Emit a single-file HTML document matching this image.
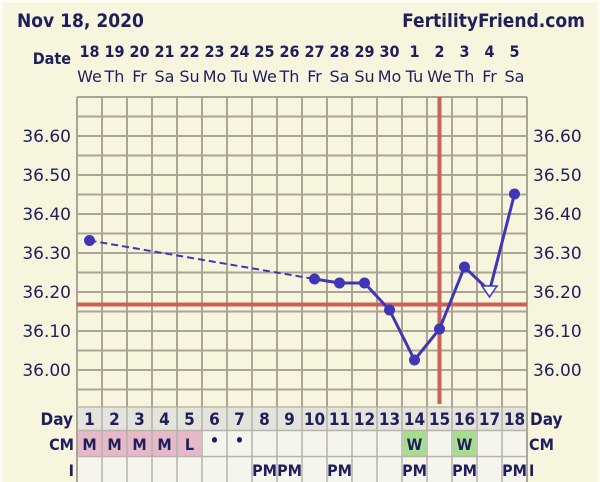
<!DOCTYPE html><html><head><style>body{margin:0;background:#fff}svg{display:block}</style></head><body>
<svg width="600" height="482" xmlns="http://www.w3.org/2000/svg" font-family="'DejaVu Sans Condensed','Liberation Sans',sans-serif">
<rect x="0" y="0" width="600" height="482" fill="#fdfcf3"/>
<rect x="3" y="3" width="594" height="479" fill="#f8f5de"/>
<text x="17" y="27" font-size="19" font-weight="bold" fill="#1f1f5c">Nov 18, 2020</text>
<text x="585" y="27" font-size="19" font-weight="bold" fill="#1f1f5c" text-anchor="end">FertilityFriend.com</text>
<text x="71" y="64" font-size="16" font-weight="bold" fill="#1f1f5c" text-anchor="end">Date</text>
<g font-size="16" font-weight="bold" fill="#1f1f5c" text-anchor="middle">
<text x="89.5" y="57">18</text><text x="114.5" y="57">19</text><text x="139.5" y="57">20</text><text x="164.5" y="57">21</text><text x="189.5" y="57">22</text><text x="214.5" y="57">23</text><text x="239.5" y="57">24</text><text x="264.5" y="57">25</text><text x="289.5" y="57">26</text><text x="314.5" y="57">27</text><text x="339.5" y="57">28</text><text x="364.5" y="57">29</text><text x="389.5" y="57">30</text><text x="414.5" y="57">1</text><text x="439.5" y="57">2</text><text x="464.5" y="57">3</text><text x="489.5" y="57">4</text><text x="514.5" y="57">5</text>
</g>
<g font-size="16" fill="#1f1f5c" text-anchor="middle" font-family="'DejaVu Sans','Liberation Sans',sans-serif">
<text x="89.5" y="82">We</text><text x="114.5" y="82">Th</text><text x="139.5" y="82">Fr</text><text x="164.5" y="82">Sa</text><text x="189.5" y="82">Su</text><text x="214.5" y="82">Mo</text><text x="239.5" y="82">Tu</text><text x="264.5" y="82">We</text><text x="289.5" y="82">Th</text><text x="314.5" y="82">Fr</text><text x="339.5" y="82">Sa</text><text x="364.5" y="82">Su</text><text x="389.5" y="82">Mo</text><text x="414.5" y="82">Tu</text><text x="439.5" y="82">We</text><text x="464.5" y="82">Th</text><text x="489.5" y="82">Fr</text><text x="514.5" y="82">Sa</text>
</g>
<g stroke="#aaa596" stroke-width="2">
<line x1="77" y1="97" x2="527" y2="97"/><line x1="77" y1="116.5" x2="527" y2="116.5"/><line x1="77" y1="136" x2="527" y2="136"/><line x1="77" y1="155.5" x2="527" y2="155.5"/><line x1="77" y1="175" x2="527" y2="175"/><line x1="77" y1="194.5" x2="527" y2="194.5"/><line x1="77" y1="214" x2="527" y2="214"/><line x1="77" y1="233.5" x2="527" y2="233.5"/><line x1="77" y1="253" x2="527" y2="253"/><line x1="77" y1="272.5" x2="527" y2="272.5"/><line x1="77" y1="292" x2="527" y2="292"/><line x1="77" y1="311.5" x2="527" y2="311.5"/><line x1="77" y1="331" x2="527" y2="331"/><line x1="77" y1="350.5" x2="527" y2="350.5"/><line x1="77" y1="370" x2="527" y2="370"/><line x1="77" y1="389.5" x2="527" y2="389.5"/>
<line x1="77" y1="97" x2="77" y2="482"/><line x1="102" y1="97" x2="102" y2="482"/><line x1="127" y1="97" x2="127" y2="482"/><line x1="152" y1="97" x2="152" y2="482"/><line x1="177" y1="97" x2="177" y2="482"/><line x1="202" y1="97" x2="202" y2="482"/><line x1="227" y1="97" x2="227" y2="482"/><line x1="252" y1="97" x2="252" y2="482"/><line x1="277" y1="97" x2="277" y2="482"/><line x1="302" y1="97" x2="302" y2="482"/><line x1="327" y1="97" x2="327" y2="482"/><line x1="352" y1="97" x2="352" y2="482"/><line x1="377" y1="97" x2="377" y2="482"/><line x1="402" y1="97" x2="402" y2="482"/><line x1="427" y1="97" x2="427" y2="482"/><line x1="452" y1="97" x2="452" y2="482"/><line x1="477" y1="97" x2="477" y2="482"/><line x1="502" y1="97" x2="502" y2="482"/><line x1="527" y1="97" x2="527" y2="482"/>
</g>
<rect x="78" y="408" width="448" height="22" fill="#e4e3dc"/>
<rect x="78" y="431" width="448" height="25" fill="#f5f5ee"/>
<rect x="78" y="457" width="448" height="25" fill="#f5f5ee"/>
<rect x="78" y="431" width="123" height="25" fill="#e6b9c8"/>
<rect x="403" y="431" width="23" height="25" fill="#a8dc8e"/>
<rect x="453" y="431" width="23" height="25" fill="#a8dc8e"/>
<g stroke="#b5b3aa" stroke-width="1.5">
<line x1="77" y1="407" x2="527" y2="407"/><line x1="77" y1="430.5" x2="527" y2="430.5"/><line x1="77" y1="456.5" x2="527" y2="456.5"/>
<line x1="102" y1="407" x2="102" y2="482"/><line x1="127" y1="407" x2="127" y2="482"/><line x1="152" y1="407" x2="152" y2="482"/><line x1="177" y1="407" x2="177" y2="482"/><line x1="202" y1="407" x2="202" y2="482"/><line x1="227" y1="407" x2="227" y2="482"/><line x1="252" y1="407" x2="252" y2="482"/><line x1="277" y1="407" x2="277" y2="482"/><line x1="302" y1="407" x2="302" y2="482"/><line x1="327" y1="407" x2="327" y2="482"/><line x1="352" y1="407" x2="352" y2="482"/><line x1="377" y1="407" x2="377" y2="482"/><line x1="402" y1="407" x2="402" y2="482"/><line x1="427" y1="407" x2="427" y2="482"/><line x1="452" y1="407" x2="452" y2="482"/><line x1="477" y1="407" x2="477" y2="482"/><line x1="502" y1="407" x2="502" y2="482"/>
</g>
<g font-size="17" font-weight="bold" fill="#1f1f5c" text-anchor="middle">
<text x="89.5" y="425">1</text><text x="114.5" y="425">2</text><text x="139.5" y="425">3</text><text x="164.5" y="425">4</text><text x="189.5" y="425">5</text><text x="214.5" y="425">6</text><text x="239.5" y="425">7</text><text x="264.5" y="425">8</text><text x="289.5" y="425">9</text><text x="314.5" y="425">10</text><text x="339.5" y="425">11</text><text x="364.5" y="425">12</text><text x="389.5" y="425">13</text><text x="414.5" y="425">14</text><text x="439.5" y="425">15</text><text x="464.5" y="425">16</text><text x="489.5" y="425">17</text><text x="514.5" y="425">18</text>
</g>
<text x="73" y="425" font-size="17" font-weight="bold" fill="#1f1f5c" text-anchor="end">Day</text>
<text x="530" y="425" font-size="17" font-weight="bold" fill="#1f1f5c">Day</text>
<g font-size="16" font-weight="bold" fill="#1f1f5c" text-anchor="middle">
<text x="89.5" y="450">M</text><text x="114.5" y="450">M</text><text x="139.5" y="450">M</text><text x="164.5" y="450">M</text><text x="189.5" y="450">L</text><text x="214.5" y="446">•</text><text x="239.5" y="446">•</text><text x="414.5" y="450">W</text><text x="464.5" y="450">W</text>
<text x="264.5" y="476">PM</text><text x="289.5" y="476">PM</text><text x="339.5" y="476">PM</text><text x="414.5" y="476">PM</text><text x="464.5" y="476">PM</text><text x="514.5" y="476">PM</text>
</g>
<text x="74" y="450" font-size="16" font-weight="bold" fill="#1f1f5c" text-anchor="end">CM</text>
<text x="529" y="450" font-size="16" font-weight="bold" fill="#1f1f5c">CM</text>
<text x="74" y="476" font-size="16" font-weight="bold" fill="#1f1f5c" text-anchor="end">I</text>
<text x="529" y="476" font-size="16" font-weight="bold" fill="#1f1f5c">I</text>
<g font-size="17" fill="#1f1f5c" font-family="'DejaVu Sans','Liberation Sans',sans-serif">
<g text-anchor="end"><text x="71" y="142">36.60</text><text x="71" y="181">36.50</text><text x="71" y="220">36.40</text><text x="71" y="259">36.30</text><text x="71" y="298">36.20</text><text x="71" y="337">36.10</text><text x="71" y="376">36.00</text></g>
<g><text x="533" y="142">36.60</text><text x="533" y="181">36.50</text><text x="533" y="220">36.40</text><text x="533" y="259">36.30</text><text x="533" y="298">36.20</text><text x="533" y="337">36.10</text><text x="533" y="376">36.00</text></g>
</g>
<line x1="77" y1="304.5" x2="527" y2="304.5" stroke="#c8625a" stroke-width="4"/>
<line x1="439.5" y1="97" x2="439.5" y2="404" stroke="#c8625a" stroke-width="4"/>
<line x1="89.5" y1="240.5" x2="314.5" y2="279" stroke="#3f37b5" stroke-width="2" stroke-dasharray="7,4"/>
<polyline points="314.5,279 339.5,283 364.5,283 389.5,310 414.5,360 439.5,329 464.5,267 489.5,291 514.5,194" fill="none" stroke="#3f37b5" stroke-width="3"/>
<g fill="#3f37b5">
<circle cx="89.5" cy="240.5" r="5.5"/><circle cx="314.5" cy="279" r="5.5"/><circle cx="339.5" cy="283" r="5.5"/><circle cx="364.5" cy="283" r="5.5"/><circle cx="389.5" cy="310" r="5.5"/><circle cx="414.5" cy="360" r="5.5"/><circle cx="439.5" cy="329" r="5.5"/><circle cx="464.5" cy="267" r="5.5"/><circle cx="514.5" cy="194" r="5.5"/>
</g>
<polygon points="482,286 497,286 489.5,297" fill="#fff" stroke="#3f37b5" stroke-width="1.5"/>
</svg>
</body></html>
